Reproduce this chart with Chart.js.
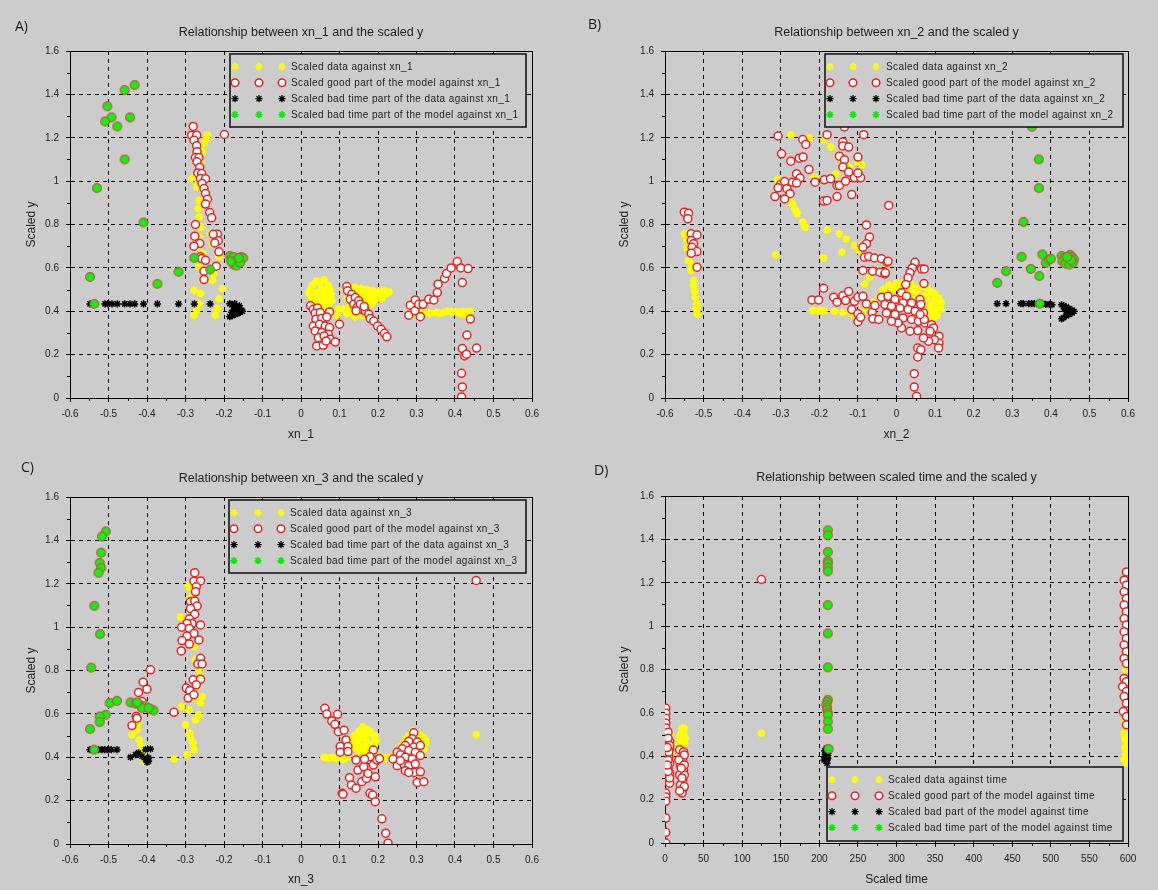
<!DOCTYPE html>
<html>
<head>
<meta charset="utf-8">
<script src="https://cdn.jsdelivr.net/npm/chart.js@4.4.1/dist/chart.umd.min.js"></script>
<style>
  html, body { margin: 0; padding: 0; background: #cccccc; }
  #wrap { position: relative; width: 1158px; height: 890px; }
  canvas { position: absolute; }
</style>
</head>
<body>
<div id="wrap">
  <canvas id="cA" width="579" height="445" style="left:0;top:0"></canvas>
  <canvas id="cB" width="579" height="445" style="left:579px;top:0"></canvas>
  <canvas id="cC" width="579" height="445" style="left:0;top:445px"></canvas>
  <canvas id="cD" width="579" height="445" style="left:579px;top:445px"></canvas>
</div>
<script>
// axis ranges / ticks
const xnTicks = [-0.6, 0.6, 0.1];
const timeTicks = [0, 600, 50];
const yTicks = [0, 1.6, 0.2];

// ---- panel A : xn_1 ----
const xn1Data = [
  [-0.243,1.212],[-0.252,1.174],[-0.256,1.135],[-0.261,1.082],[-0.283,1.012],[-0.270,0.974],[-0.265,0.912],
  [-0.267,0.874],[-0.265,0.835],[-0.261,0.789],[-0.265,0.743],[-0.270,0.697],[-0.256,0.666],[-0.265,0.605],
  [-0.256,0.543],[-0.278,0.497],[-0.261,0.482],[-0.265,0.435],[-0.270,0.405],[-0.278,0.382],[-0.248,1.19],
  [-0.235,0.758],[-0.230,0.712],[-0.213,0.651],[-0.217,0.605],[-0.226,0.574],[-0.204,0.505],[-0.213,0.458],
  [-0.217,0.412],[-0.222,0.382],[-0.230,0.543],
  [0.025,0.50],[0.03,0.52],[0.04,0.54],[0.05,0.53],[0.06,0.545],[0.07,0.52],[0.075,0.50],[0.065,0.49],
  [0.055,0.50],[0.045,0.49],[0.035,0.48],[0.025,0.47],[0.03,0.455],[0.045,0.46],[0.06,0.47],[0.07,0.46],
  [0.078,0.48],[0.05,0.445],[0.065,0.44],[0.04,0.43],[0.055,0.425],[0.07,0.43],[0.06,0.415],[0.08,0.45],
  [0.02,0.485],[0.093,0.382],[0.097,0.41],
  [0.115,0.50],[0.125,0.515],[0.14,0.51],[0.155,0.505],[0.17,0.50],[0.185,0.495],[0.2,0.49],[0.215,0.495],
  [0.228,0.49],[0.22,0.48],[0.205,0.475],[0.19,0.47],[0.175,0.475],[0.16,0.48],[0.145,0.485],[0.13,0.48],
  [0.12,0.46],[0.135,0.455],[0.15,0.46],[0.165,0.455],[0.18,0.45],[0.195,0.455],[0.21,0.46],[0.14,0.44],
  [0.155,0.435],[0.17,0.43],[0.185,0.435],[0.125,0.42],[0.14,0.415],[0.155,0.41],[0.135,0.40],[0.15,0.39],
  [0.14,0.375],[0.16,0.38],[0.12,0.39],[0.13,0.43],[0.11,0.41],
  [0.28,0.39],[0.29,0.385],[0.30,0.39],[0.31,0.395],[0.32,0.39],[0.335,0.392],[0.35,0.395],[0.36,0.39],
  [0.37,0.395],[0.38,0.40],[0.39,0.398],[0.40,0.40],[0.41,0.395],[0.42,0.40],[0.43,0.398],[0.44,0.40],
  [0.425,0.385],[0.415,0.39]
];
const xn1Good = [
  [-0.280,1.252],[-0.284,1.212],[-0.271,1.212],[-0.278,1.189],[-0.271,1.163],[-0.270,1.135],[-0.274,1.109],
  [-0.265,1.109],[-0.270,1.089],[-0.263,1.063],[-0.268,1.038],[-0.258,1.035],[-0.261,1.012],[-0.248,1.011],
  [-0.257,0.989],[-0.252,0.966],[-0.248,0.943],[-0.243,0.917],[-0.248,0.894],[-0.237,0.855],[-0.232,0.831],
  [-0.274,0.800],[-0.276,0.746],[-0.263,0.712],[-0.278,0.700],[-0.217,0.755],[-0.228,0.755],[-0.215,0.725],
  [-0.224,0.715],[-0.213,0.674],[-0.261,0.651],[-0.258,0.643],[-0.248,0.635],[-0.252,0.585],[-0.220,0.608],
  [-0.252,0.546],[-0.199,1.215],
  [0.025,0.425],[0.032,0.409],[0.043,0.415],[0.037,0.391],[0.050,0.394],[0.074,0.397],[0.039,0.363],
  [0.054,0.366],[0.067,0.374],[0.032,0.332],[0.048,0.340],[0.063,0.332],[0.074,0.325],[0.037,0.309],
  [0.054,0.302],[0.071,0.294],[0.045,0.278],[0.060,0.286],[0.076,0.271],[0.041,0.240],[0.058,0.243],
  [0.065,0.263],[0.089,0.258],[0.100,0.340],
  [0.119,0.514],[0.121,0.494],[0.132,0.478],[0.128,0.455],[0.141,0.463],[0.137,0.432],[0.150,0.448],
  [0.145,0.417],[0.158,0.409],[0.154,0.432],[0.167,0.402],[0.176,0.386],[0.180,0.366],[0.189,0.355],
  [0.199,0.332],[0.208,0.317],[0.217,0.298],[0.223,0.282],[0.143,0.402],[0.164,0.422],
  [0.280,0.382],[0.284,0.428],[0.297,0.452],[0.296,0.402],[0.306,0.432],[0.317,0.432],[0.310,0.375],
  [0.332,0.455],[0.345,0.452],[0.354,0.486],[0.356,0.525],[0.373,0.551],[0.378,0.574],[0.390,0.600],
  [0.406,0.629],[0.415,0.600],[0.434,0.597],[0.419,0.532],[0.440,0.364],[0.431,0.290],[0.456,0.230],
  [0.419,0.228],[0.425,0.194],[0.430,0.202],[0.417,0.114],[0.419,0.051],[0.417,0.005]
];
const xn1BadData = [
  [-0.548,0.434],[-0.535,0.434],[-0.509,0.434],[-0.502,0.434],[-0.491,0.434],[-0.477,0.434],[-0.458,0.434],
  [-0.444,0.434],[-0.432,0.434],[-0.409,0.434],[-0.373,0.434],[-0.318,0.434],[-0.277,0.434],[-0.236,0.434],
  [-0.185,0.435],[-0.180,0.43],[-0.175,0.425],[-0.170,0.42],[-0.165,0.415],[-0.160,0.41],[-0.155,0.405],
  [-0.152,0.40],[-0.158,0.395],[-0.165,0.39],[-0.170,0.385],[-0.178,0.38],[-0.185,0.375],[-0.175,0.405],
  [-0.168,0.40],[-0.180,0.395],[-0.172,0.435],[-0.160,0.425]
];
const xn1BadModel = [
  [-0.432,1.443],[-0.458,1.42],[-0.503,1.345],[-0.492,1.294],[-0.444,1.294],[-0.509,1.275],[-0.477,1.252],
  [-0.458,1.10],[-0.530,0.968],[-0.409,0.809],[-0.277,0.646],[-0.318,0.582],[-0.548,0.558],[-0.373,0.526],
  [-0.236,0.592],[-0.537,0.434],
  [-0.185,0.655],[-0.180,0.64],[-0.175,0.65],[-0.170,0.63],[-0.165,0.62],[-0.160,0.635],[-0.155,0.65],
  [-0.150,0.645],[-0.175,0.615],[-0.168,0.61],[-0.158,0.625],[-0.182,0.63],[-0.162,0.645]
];

// ---- panel B : xn_2 ----
const xn2Data = [
  [-0.550,0.757],[-0.543,0.695],[-0.539,0.634],[-0.533,0.588],[-0.526,0.542],[-0.523,0.495],[-0.522,0.465],
  [-0.517,0.434],[-0.516,0.388],[-0.543,0.726],[-0.530,0.611],[-0.526,0.518],[-0.519,0.411],
  [-0.309,1.006],[-0.283,0.957],[-0.270,0.895],[-0.257,0.849],[-0.243,0.811],[-0.237,0.788],[-0.296,0.98],
  [-0.276,0.925],[-0.263,0.87],[-0.274,1.214],[-0.226,1.20],[-0.187,1.188],[-0.170,1.157],[-0.152,1.118],
  [-0.139,1.088],[-0.122,1.065],[-0.100,1.088],[-0.091,1.075],[-0.157,1.034],[-0.213,1.018],
  [-0.180,0.775],[-0.148,0.757],[-0.130,0.734],[-0.109,0.703],[-0.096,0.680],[-0.313,0.660],[-0.189,0.645],
  [-0.141,0.672],[-0.083,0.526],[-0.070,0.557],[-0.048,0.588],[-0.026,0.618],
  [-0.217,0.403],[-0.200,0.403],[-0.187,0.403],[-0.161,0.400],[-0.139,0.395],[-0.117,0.388],[-0.104,0.380],
  [-0.035,0.50],[-0.02,0.52],[0,0.53],[0.02,0.53],[0.04,0.52],[0.06,0.51],[0.08,0.50],[0.09,0.49],[0.10,0.48],
  [0.11,0.46],[0.115,0.44],[0.11,0.42],[0.10,0.40],[0.105,0.38],[0.095,0.37],[0.09,0.43],[0.07,0.47],
  [0.05,0.49],[0.03,0.50],[0.01,0.51],[-0.01,0.50],[-0.03,0.48],[-0.045,0.47],[0.08,0.46],[0.06,0.44],
  [0.04,0.46],[0.02,0.47],[0,0.46],[-0.02,0.45],[0.10,0.45],[0.085,0.42],[0.07,0.40],[0.115,0.41],
  [0.09,0.39],[-0.06,0.44],[-0.07,0.43],[-0.08,0.41]
];
const xn2Good = [
  [-0.550,0.857],[-0.539,0.852],[-0.541,0.826],[-0.532,0.757],[-0.517,0.752],[-0.532,0.726],[-0.526,0.711],
  [-0.530,0.695],[-0.517,0.675],[-0.532,0.668],[-0.517,0.603],
  [-0.307,1.208],[-0.180,1.214],[-0.085,1.214],[-0.243,1.192],[-0.235,1.169],[-0.298,1.126],[-0.274,1.092],
  [-0.252,1.106],[-0.242,1.111],[-0.227,1.054],[-0.259,1.034],[-0.250,1.014],[-0.270,0.995],[-0.259,0.991],
  [-0.300,0.985],[-0.290,0.998],[-0.284,0.965],[-0.307,0.969],[-0.276,0.942],[-0.315,0.929],[-0.290,0.918],
  [-0.211,0.995],[-0.187,1.006],[-0.171,1.011],[-0.154,0.980],[-0.148,0.980],[-0.132,1.000],[-0.109,1.015],
  [-0.093,1.015],[-0.100,1.037],[-0.116,0.938],[-0.189,0.908],[-0.180,0.911],[-0.154,0.929],[-0.139,1.180],
  [-0.139,1.162],[-0.124,1.157],[-0.148,1.115],[-0.135,1.098],[-0.139,1.065],[-0.124,1.042],[-0.100,1.111],
  [-0.020,0.888],[-0.135,1.25],
  [-0.078,0.798],[-0.070,0.742],[-0.078,0.711],[-0.087,0.695],[-0.083,0.649],[-0.072,0.652],[-0.057,0.646],
  [-0.039,0.642],[-0.024,0.626],[-0.087,0.588],[-0.062,0.585],[-0.043,0.580],[-0.030,0.572],[-0.189,0.506],
  [-0.219,0.452],[-0.202,0.452],[-0.163,0.465],[-0.154,0.442],[-0.139,0.472],[-0.124,0.491],[-0.132,0.449],
  [-0.109,0.446],[-0.100,0.465],[-0.087,0.469],[-0.116,0.408],[-0.100,0.388],[-0.100,0.352],[-0.093,0.372],
  [-0.078,0.434],[-0.063,0.395],[-0.061,0.365],[-0.046,0.362],[-0.056,0.426],[-0.039,0.465],[-0.022,0.434],
  [-0.022,0.631],[-0.029,0.577],[0.048,0.626],[0.041,0.600],[0.035,0.577],[0.065,0.595],[0.072,0.595],
  [0.030,0.554],[0.024,0.523],[0.071,0.528],[0.013,0.485],[0.026,0.469],[0.017,0.438],[-0.022,0.469],
  [-0.004,0.454],[0.039,0.438],[0.061,0.454],[0.063,0.431],[-0.030,0.431],[-0.013,0.423],[0.009,0.415],
  [0.030,0.408],[0.048,0.400],[0.070,0.392],[-0.026,0.392],[-0.004,0.385],[0.017,0.369],[0.039,0.362],
  [0.057,0.354],[0.074,0.346],[0.091,0.338],[0.096,0.323],[0.110,0.285],[0.110,0.254],[0.109,0.231],
  [0.098,0.269],[0.083,0.262],[0.070,0.277],[0.055,0.311],[0.035,0.308],[0.013,0.323],[0.004,0.346],
  [-0.013,0.354],[0.055,0.231],[0.063,0.223],[0.055,0.189],[0.046,0.112],[0.046,0.051],[0.052,0.008],
  [0.087,0.308],[0.072,0.362],[0.061,0.385]
];
const xn2BadData = [
  [0.261,0.435],[0.284,0.435],[0.322,0.435],[0.328,0.435],[0.343,0.435],[0.350,0.435],[0.357,0.435],
  [0.370,0.435],[0.378,0.435],[0.387,0.432],[0.396,0.432],[0.403,0.430],
  [0.428,0.430],[0.433,0.425],[0.440,0.420],[0.447,0.412],[0.455,0.405],[0.460,0.400],[0.455,0.392],
  [0.447,0.385],[0.440,0.378],[0.433,0.370],[0.428,0.365],[0.440,0.400],[0.435,0.410],[0.450,0.398]
];
const xn2BadModel = [
  [0.324,0.651],[0.378,0.662],[0.387,0.623],[0.396,0.638],[0.400,0.642],[0.284,0.585],[0.348,0.595],
  [0.370,0.562],[0.261,0.531],[0.371,0.435],[0.369,1.10],[0.369,0.968],[0.329,0.812],[0.351,1.251],
  [0.428,0.655],[0.435,0.645],[0.440,0.635],[0.445,0.625],[0.450,0.660],[0.455,0.650],[0.460,0.640],
  [0.430,0.630],[0.438,0.620],[0.448,0.615],[0.458,0.625],[0.452,0.635],[0.442,0.650]
];

// ---- panel C : xn_3 ----
const xn3Data = [
  [-0.426,0.588],[-0.422,0.558],[-0.439,0.504],[-0.426,0.527],[-0.420,0.481],[-0.415,0.451],[-0.411,0.420],
  [-0.406,0.382],[-0.330,0.392],
  [-0.291,1.193],[-0.287,1.140],[-0.313,1.048],[-0.310,1.002],[-0.284,0.971],[-0.278,0.910],[-0.274,0.849],
  [-0.265,0.803],[-0.261,0.772],[-0.270,0.726],[-0.278,0.673],[-0.257,0.680],[-0.261,0.650],[-0.310,0.634],
  [-0.291,0.619],[-0.265,0.596],[-0.300,0.550],[-0.274,0.573],[-0.289,0.512],[-0.287,0.489],[-0.280,0.466],
  [-0.278,0.435],[-0.296,0.412],[-0.293,1.186],[-0.282,1.094],
  [0.13,0.48],[0.14,0.50],[0.15,0.52],[0.16,0.54],[0.17,0.53],[0.18,0.52],[0.19,0.50],[0.195,0.48],
  [0.185,0.46],[0.17,0.47],[0.155,0.49],[0.145,0.47],[0.16,0.45],[0.175,0.44],[0.19,0.45],[0.14,0.44],
  [0.15,0.43],[0.165,0.42],[0.18,0.425],[0.135,0.455],[0.17,0.50],[0.16,0.51],
  [0.26,0.45],[0.27,0.48],[0.28,0.50],[0.29,0.52],[0.30,0.51],[0.31,0.50],[0.32,0.49],[0.325,0.47],
  [0.315,0.45],[0.30,0.44],[0.285,0.43],[0.27,0.42],[0.26,0.41],[0.31,0.42],[0.32,0.44],
  [0.06,0.40],[0.07,0.395],[0.08,0.40],[0.09,0.395],[0.10,0.40],[0.11,0.39],[0.12,0.40],[0.20,0.405],
  [0.21,0.40],[0.22,0.395],[0.23,0.40],[0.24,0.405],[0.25,0.40],[0.455,0.505]
];
const xn3Good = [
  [-0.391,0.803],[-0.410,0.746],[-0.400,0.714],[-0.422,0.699],[-0.413,0.657],[-0.428,0.588],[-0.426,0.580],
  [-0.439,0.546],[-0.330,0.607],
  [-0.276,1.251],[-0.278,1.212],[-0.261,1.213],[-0.272,1.186],[-0.274,1.163],[-0.287,1.117],[-0.276,1.120],
  [-0.270,1.097],[-0.287,1.086],[-0.276,1.059],[-0.290,1.037],[-0.283,1.017],[-0.296,1.017],[-0.261,1.010],
  [-0.310,1.000],[-0.290,0.994],[-0.278,0.971],[-0.296,0.959],[-0.309,0.938],[-0.290,0.922],[-0.265,0.941],
  [-0.311,0.890],[-0.261,0.856],[-0.268,0.830],[-0.257,0.830],[-0.280,0.757],[-0.261,0.760],[-0.272,0.734],
  [-0.298,0.719],[-0.289,0.708],[-0.293,0.673],[-0.278,0.688],
  [0.062,0.626],[0.067,0.599],[0.080,0.567],[0.095,0.598],[0.088,0.552],[0.097,0.518],[0.112,0.525],
  [0.117,0.480],[0.102,0.449],[0.102,0.423],[0.122,0.449],[0.122,0.426],[0.107,0.234],[0.109,0.229],
  [0.126,0.306],[0.131,0.272],[0.143,0.257],[0.143,0.387],[0.148,0.341],[0.163,0.356],[0.158,0.287],
  [0.170,0.302],[0.174,0.325],[0.179,0.387],[0.188,0.364],[0.193,0.310],[0.197,0.387],[0.188,0.433],
  [0.179,0.402],[0.165,0.391],[0.204,0.394],[0.179,0.234],[0.186,0.226],[0.193,0.195],[0.210,0.116],
  [0.220,0.050],[0.226,0.004],
  [0.293,0.513],[0.289,0.485],[0.280,0.473],[0.302,0.470],[0.271,0.454],[0.293,0.447],[0.310,0.454],
  [0.263,0.439],[0.280,0.431],[0.297,0.423],[0.250,0.423],[0.239,0.392],[0.258,0.411],[0.271,0.400],
  [0.289,0.392],[0.310,0.408],[0.250,0.361],[0.267,0.369],[0.280,0.361],[0.297,0.369],[0.271,0.338],
  [0.293,0.330],[0.310,0.333],[0.302,0.284],[0.319,0.287],[0.280,0.330],[0.258,0.384],[0.455,1.215]
];
const xn3BadData = [
  [-0.548,0.435],[-0.537,0.435],[-0.526,0.435],[-0.517,0.435],[-0.510,0.435],[-0.502,0.435],[-0.493,0.435],
  [-0.478,0.435],
  [-0.443,0.400],[-0.430,0.412],[-0.422,0.420],[-0.413,0.405],[-0.404,0.435],[-0.396,0.397],[-0.400,0.377],
  [-0.391,0.438],[-0.396,0.382],[-0.404,0.390]
];
const xn3BadModel = [
  [-0.507,1.441],[-0.517,1.418],[-0.519,1.343],[-0.523,1.296],[-0.519,1.273],[-0.526,1.251],[-0.537,1.098],
  [-0.522,0.968],[-0.545,0.813],[-0.497,0.650],[-0.478,0.660],[-0.507,0.596],[-0.523,0.588],[-0.523,0.562],
  [-0.548,0.530],[-0.537,0.435],
  [-0.443,0.653],[-0.430,0.647],[-0.417,0.642],[-0.404,0.634],[-0.391,0.622],[-0.383,0.616],[-0.413,0.627],
  [-0.396,0.627],[-0.426,0.653]
];

// ---- panel D : scaled time ----
const timeData = [
  [5,0.50],[7,0.506],[9,0.452],[7,0.391],[6,0.47],[8,0.42],
  [22,0.529],[24,0.506],[19,0.483],[25,0.46],[22,0.445],[23,0.414],[20,0.498],[26,0.483],[18,0.452],
  [25,0.529],[21,0.399],[125,0.506],
  [596,0.56],[597,0.53],[595,0.50],[598,0.47],[596,0.44],[597,0.41],[595,0.385],[598,0.37],[597,1.20],
  [597,1.00],[597,0.80],[597,0.65],[598,0.52],[596,0.48],[597,0.39]
];
const timeGood = [
  [1,0.621],[1,0.598],[1,0.575],[1,0.552],[1,0.53],[1,0.23],[1,0.212],[1,0.192],[1,0.115],[1,0.049],[1,0],
  [4,0.511],[6,0.468],[6,0.437],[5,0.399],[6,0.368],[6,0.322],[5,0.299],[6,0.276],[4,0.483],[4,0.383],
  [4,0.345],[6,0.45],[5,0.42],[6,0.30],[4,0.33],[3,0.36],[3,0.44],
  [19,0.43],[24,0.42],[23,0.39],[20,0.36],[24,0.337],[19,0.314],[23,0.291],[20,0.268],[24,0.253],[22,0.23],
  [25,0.406],[18,0.383],[25,0.36],[25,0.314],[25,0.26],[21,0.345],[22,0.30],[19,0.24],
  [125,1.215],
  [598,1.25],[595,1.212],[598,1.189],[595,1.158],[598,1.127],[595,1.097],[598,1.066],[595,1.035],
  [598,1.005],[595,0.974],[598,0.943],[595,0.913],[598,0.882],[595,0.851],[598,0.828],[595,0.759],
  [598,0.744],[593,0.721],[598,0.698],[595,0.675],[598,0.644],[594,0.606],[598,0.583],[598,0.545]
];
const timeBad = [
  [209,0.437],[210,0.414],[207,0.399],[211,0.391],[209,0.376],[212,0.422],[206,0.383],[210,0.368],
  [211,0.43],[208,0.41],[209,0.40],[211,0.405],[207,0.425],[210,0.385]
];
const timeBadModel = [
  [211,1.442],[211,1.419],[211,1.342],[211,1.30],[211,1.289],[211,1.27],[211,1.253],[211,1.097],
  [211,0.966],[211,0.81],[211,0.66],[210,0.65],[209,0.637],[210,0.625],[210,0.614],[211,0.60],[211,0.59],
  [211,0.56],[211,0.526],[212,0.434]
];

const FONT = '"Liberation Sans", Arial, sans-serif';
const BG = '#cccccc';

// marker for the green points: red circle filled by the green star
function greenMark() {
  const c = document.createElement('canvas');
  c.width = 12; c.height = 12;
  const g = c.getContext('2d');
  g.beginPath(); g.arc(6, 6, 4.4, 0, Math.PI * 2);
  g.fillStyle = '#2fd52f'; g.fill();
  g.lineWidth = 1.2; g.strokeStyle = '#c05a3a'; g.stroke();
  starPath(g, 6, 6, 3.6, '#00ff00', 1.5);
  return c;
}
function starPath(g, x, y, r, color, w) {
  g.save();
  g.strokeStyle = color; g.lineWidth = w;
  g.beginPath();
  for (let i = 0; i < 4; i++) {
    const a = i * Math.PI / 4;
    g.moveTo(x - r * Math.cos(a), y - r * Math.sin(a));
    g.lineTo(x + r * Math.cos(a), y + r * Math.sin(a));
  }
  g.stroke();
  g.restore();
}
const GREEN_MARK = greenMark();

const pts = arr => arr.map(([x, y]) => ({x, y}));
const tickFmt = v => String(+v.toFixed(2));

// draws frame, minor ticks, legend, title and panel letter
const decor = {
  id: 'decor',
  beforeDatasetsDraw(chart, args, o) {
    const {ctx, chartArea: a, scales} = chart;
    ctx.save();
    ctx.strokeStyle = '#000'; ctx.lineWidth = 1;
    ctx.strokeRect(Math.round(a.left) + 0.5, Math.round(a.top) + 0.5,
      Math.round(a.right - a.left), Math.round(a.bottom - a.top));
    ctx.beginPath();
    const xs = scales.x, ys = scales.y;
    for (let v = xs.min + o.minorX; v < xs.max; v += o.minorX * 2) {
      const px = Math.round(xs.getPixelForValue(v)) + 0.5;
      ctx.moveTo(px, a.bottom); ctx.lineTo(px, a.bottom + 3);
    }
    for (let v = ys.min + 0.1; v < ys.max; v += 0.2) {
      const py = Math.round(ys.getPixelForValue(v)) + 0.5;
      ctx.moveTo(a.left, py); ctx.lineTo(a.left - 3, py);
    }
    ctx.stroke();
    ctx.restore();
  },
  afterDatasetsDraw(chart, args, o) {
    const {ctx} = chart;
    const L = o.legend;
    ctx.save();
    ctx.fillStyle = BG;
    ctx.fillRect(L.x, L.y, L.w, L.h);
    ctx.strokeStyle = '#1a1a1a'; ctx.lineWidth = 1.6;
    ctx.strokeRect(L.x, L.y, L.w, L.h);
    ctx.font = '10px ' + FONT;
    ctx.letterSpacing = '0.4px';
    ctx.textBaseline = 'middle';
    ctx.fillStyle = '#222';
    chart.data.datasets.forEach((ds, i) => {
      const y = L.y + 12.7 + i * 16;
      L.marks.forEach(dx => {
        const x = L.x + dx;
        if (ds.pointStyle === 'circle') {
          ctx.beginPath(); ctx.arc(x, y, 3.8, 0, Math.PI * 2);
          ctx.fillStyle = '#fff'; ctx.fill();
          ctx.lineWidth = 1.5; ctx.strokeStyle = ds.borderColor; ctx.stroke();
        } else {
          starPath(ctx, x, y, 3.6, ds.legendColor, ds.legendColor === '#000000' ? 1.3 : 1.6);
        }
      });
      ctx.fillStyle = '#222';
      ctx.fillText(ds.label, L.x + L.text, y + 0.5);
    });
    ctx.restore();
  },
  afterDraw(chart, args, o) {
    const {ctx, chartArea: a} = chart;
    ctx.save();
    ctx.fillStyle = '#222';
    ctx.textBaseline = 'middle';
    ctx.textAlign = 'center';
    ctx.font = '12.5px ' + FONT;
    ctx.fillText(o.title, (a.left + a.right) / 2, o.titleY);
    ctx.textAlign = 'left';
    ctx.font = '14px "Open Sans", ' + FONT;
    ctx.fillStyle = '#1a1a1a';
    ctx.fillText(o.letter, o.letterX, o.letterY);
    ctx.restore();
  }
};

function makePanel(id, p) {
  const datasets = [
    {label: p.names[0], data: pts(p.series[0]), pointStyle: 'star', pointRadius: 4, borderWidth: 2,
     borderColor: '#ffff00', backgroundColor: '#ffff00', legendColor: '#ffff00', order: 4},
    {label: p.names[1], data: pts(p.series[1]), pointStyle: 'circle', pointRadius: 4, borderWidth: 1.5,
     borderColor: '#f02020', backgroundColor: '#ffffff', order: 3},
    {label: p.names[2], data: pts(p.series[2]), pointStyle: 'star', pointRadius: 3.6, borderWidth: 1.5,
     borderColor: '#000000', backgroundColor: '#000000', legendColor: '#000000', order: 2},
    {label: p.names[3], data: pts(p.series[3]), pointStyle: GREEN_MARK, pointRadius: 5,
     borderColor: '#00ff00', backgroundColor: '#00ff00', legendColor: '#00ee00', order: 1}
  ];
  const axisFont = {size: 10, family: FONT};
  new Chart(document.getElementById(id), {
    type: 'scatter',
    data: {datasets},
    options: {
      responsive: false,
      animation: false,
      events: [],
      layout: {padding: {left: p.pad[0], top: p.pad[1], right: p.pad[2], bottom: 0}},
      plugins: {
        legend: {display: false},
        tooltip: {enabled: false},
        decor: {title: p.title, titleY: p.titleY, letter: p.letter, letterX: p.letterX, letterY: p.letterY,
                legend: p.legend, minorX: p.xTicks[2] / 2}
      },
      scales: {
        x: {
          type: 'linear', min: p.xTicks[0], max: p.xTicks[1],
          ticks: {stepSize: p.xTicks[2], autoSkip: false, maxRotation: 0, color: '#222', font: axisFont,
                  padding: 6, callback: tickFmt},
          grid: {color: '#000', lineWidth: 1, tickLength: 4, tickColor: '#000'},
          border: {color: '#000', width: 1, dash: [4, 4]},
          title: {display: true, text: p.xTitle, color: '#222', font: {size: 12, family: FONT}, padding: {top: 3, bottom: 3}},
          afterFit: s => { s.height = p.xH; }
        },
        y: {
          type: 'linear', min: yTicks[0], max: yTicks[1],
          ticks: {stepSize: yTicks[2], autoSkip: false, color: '#222', font: axisFont, padding: 7, callback: tickFmt},
          grid: {color: '#000', lineWidth: 1, tickLength: 4, tickColor: '#000'},
          border: {color: '#000', width: 1, dash: [4, 4]},
          title: {display: true, text: 'Scaled y', color: '#222', font: {size: 12, family: FONT}, padding: {top: 3, bottom: 3}},
          afterFit: s => { s.width = p.yW; }
        }
      }
    },
    plugins: [decor]
  });
}

const xnNames = n => ['Scaled data against ' + n, 'Scaled good part of the model against ' + n,
  'Scaled bad time part of the data against ' + n, 'Scaled bad time part of the model against ' + n];

makePanel('cA', {
  series: [xn1Data, xn1Good, xn1BadData, xn1BadModel], names: xnNames('xn_1'),
  title: 'Relationship between xn_1 and the scaled y', xTitle: 'xn_1', xTicks: xnTicks,
  pad: [21, 51, 47], yW: 49, xH: 47, titleY: 33, letter: 'A)', letterX: 15, letterY: 27,
  legend: {x: 230, y: 54, w: 296, h: 73, marks: [5, 29, 52], text: 61}
});
makePanel('cB', {
  series: [xn2Data, xn2Good, xn2BadData, xn2BadModel], names: xnNames('xn_2'),
  title: 'Relationship between xn_2 and the scaled y', xTitle: 'xn_2', xTicks: xnTicks,
  pad: [35, 51, 30], yW: 51, xH: 47, titleY: 33, letter: 'B)', letterX: 9, letterY: 25,
  legend: {x: 246, y: 54, w: 298, h: 73, marks: [5, 28, 51], text: 61}
});
makePanel('cC', {
  series: [xn3Data, xn3Good, xn3BadData, xn3BadModel], names: xnNames('xn_3'),
  title: 'Relationship between xn_3 and the scaled y', xTitle: 'xn_3', xTicks: xnTicks,
  pad: [21, 52, 47], yW: 49, xH: 46, titleY: 34, letter: 'C)', letterX: 21, letterY: 23,
  legend: {x: 229, y: 55, w: 297, h: 73, marks: [5, 29, 52], text: 61}
});
makePanel('cD', {
  series: [timeData, timeGood, timeBad, timeBadModel],
  names: ['Scaled data against time', 'Scaled good part of the model against time',
          'Scaled bad part of the model against time', 'Scaled bad time part of the model against time'],
  title: 'Relationship between scaled time and the scaled y', xTitle: 'Scaled time', xTicks: timeTicks,
  pad: [35, 51, 30], yW: 51, xH: 47, titleY: 33, letter: 'D)', letterX: 15, letterY: 26,
  legend: {x: 248, y: 322, w: 296, h: 74, marks: [5, 28, 52], text: 61}
});
</script>
</body>
</html>
